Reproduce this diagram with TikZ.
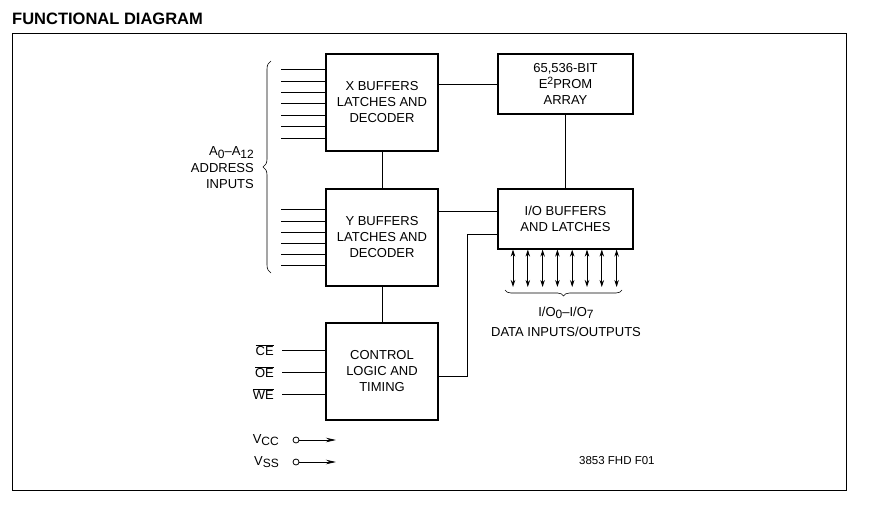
\documentclass[tikz,border=0pt]{standalone}
\usepackage{fontspec}
\setmainfont{Liberation Sans}
\usetikzlibrary{decorations.pathreplacing,arrows.meta}
\newcommand{\lowsub}[1]{\raisebox{-0.35ex}{\fontsize{12}{12}\selectfont #1}}
\newcommand{\hisup}[1]{\raisebox{0.55ex}{\fontsize{10.5}{10.5}\selectfont #1}}
\newcommand{\ovl}[1]{\ensuremath{\overline{\mbox{#1}}}}
\begin{document}
\begin{tikzpicture}[x=1pt,y=-1pt,
  blk/.style={draw,line width=1.2pt,inner sep=0pt,align=center,font=\fontsize{13}{16}\selectfont},
  wire/.style={line width=0.8pt},
  lbl/.style={font=\fontsize{13}{16.5}\selectfont,inner sep=0pt},
  dtip/.style={{Stealth[length=7pt,width=4.5pt]}-{Stealth[length=7pt,width=4.5pt]},line width=0.8pt},
  ptip/.style={-{Stealth[length=10pt,width=4.5pt]},line width=0.8pt},
  brc/.style={decorate,line width=0.6pt}]
\useasboundingbox (0,0) rectangle (874,505);
\node[anchor=west,font=\bfseries\fontsize{16.5}{18}\selectfont,inner sep=0pt] (title) at (12,19) {FUNCTIONAL DIAGRAM};
\node[draw,line width=0.9pt,minimum width=834,minimum height=457,inner sep=0pt] (frame) at (429,261.5) {};
% blocks
\node[blk,minimum width=112,minimum height=97] (xb) at (382,102.5) {X BUFFERS\\LATCHES AND\\DECODER};
\node[blk,minimum width=112,minimum height=97] (yb) at (382,237.5) {Y BUFFERS\\LATCHES AND\\DECODER};
\node[blk,minimum width=112,minimum height=97] (ctl) at (382,371.5) {CONTROL\\LOGIC AND\\TIMING};
\node[blk,minimum width=135,minimum height=60] (e2) at (565.5,84) {65,536-BIT\\E\hisup{2}PROM\\ARRAY};
\node[blk,minimum width=135,minimum height=60] (io) at (565.5,219) {I/O BUFFERS\\AND LATCHES};
% connections between blocks
\draw[wire] (xb) -- (yb);
\draw[wire] (yb) -- (ctl);
\draw[wire] (e2) -- (io);
\draw[wire] (xb.east |- e2.west) -- (e2.west);
\coordinate (ioA) at ([yshift=8pt]io.west);
\coordinate (ioB) at ([yshift=-15pt]io.west);
\draw[wire] (ioA -| yb.east) -- (ioA);
\draw[wire] ([yshift=-4.5pt]ctl.east) -| ([xshift=-30pt]ioB) -- (ioB);
% address inputs
\foreach \y in {69,81,92,103,115,126,138} {
  \coordinate (ax\y) at (281,\y);
  \draw[wire] (ax\y) -- (ax\y -| xb.west);
}
\foreach \y in {209,221,232,243,254,265} {
  \coordinate (ay\y) at (281,\y);
  \draw[wire] (ay\y) -- (ay\y -| yb.west);
}
\coordinate (brA1) at (271,273);
\coordinate (brA2) at (271,61);
\draw[brc,decoration={brace,amplitude=8pt}] (brA1) -- (brA2);
\node[lbl,anchor=east,align=right] (addr) at (254,168) {A\lowsub{0}--A\lowsub{12}\\ADDRESS\\INPUTS};
% data I/O
\foreach \i in {0,...,7} {
  \pgfmathsetmacro{\xx}{513+14.8*\i}
  \coordinate (dio\i) at (\xx,287);
  \draw[dtip] (io.south -| dio\i) -- (dio\i);
}
\coordinate (brB1) at (622,290);
\coordinate (brB2) at (505,290);
\draw[brc,decoration={brace,amplitude=6pt}] (brB1) -- (brB2);
\node[lbl] (iol) at (566,313) {I/O\lowsub{0}--I/O\lowsub{7}};
\node[lbl] (dat) at (566,332) {DATA INPUTS/OUTPUTS};
% control inputs
\foreach \nm/\y/\t in {ce/350/CE,oe/372/OE,we/394/WE} {
  \node[lbl,anchor=east] (l\nm) at (274,\y) {\ovl{\t}};
  \coordinate (c\nm) at (282,\y);
  \draw[wire] (c\nm) -- (c\nm -| ctl.west);
}
% power
\foreach \nm/\y/\t in {vcc/440/CC,vss/462/SS} {
  \node[lbl,anchor=east] (l\nm) at (279,\y) {V\lowsub{\t}};
  \node[draw,circle,line width=0.8pt,minimum size=6pt,inner sep=0pt] (o\nm) at (296,\y) {};
  \coordinate (p\nm) at (336,\y);
  \draw[ptip] (o\nm) -- (p\nm);
}
\node[font=\fontsize{11.5}{13}\selectfont,inner sep=0pt,anchor=west] (code) at (579,461) {3853 FHD F01};
\end{tikzpicture}
\end{document}
